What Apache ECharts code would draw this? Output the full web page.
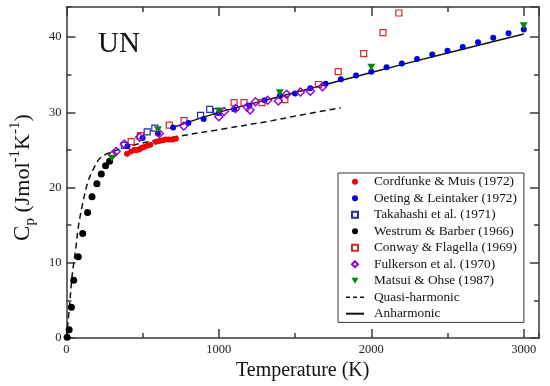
<!DOCTYPE html>
<html><head><meta charset="utf-8">
<script src="https://cdn.jsdelivr.net/npm/echarts@6/dist/echarts.min.js"></script>
<style>html,body{margin:0;padding:0;background:#fff}#c{width:550px;height:386px}</style>
</head><body><div id="c"></div>
<script>
// ---- data ----
const xTicks = [0, 1000, 2000, 3000];
const yTicks = [0, 10, 20, 30, 40];

const cordfunkeT  = [398,424,446,463,479,494,511,533,550,587,609,631,652,674,696,718];
const cordfunkeCp = [24.5,24.8,25.0,25.0,25.1,25.3,25.4,25.6,25.7,26.1,26.2,26.3,26.4,26.4,26.4,26.5];

const oetingT  = [400,500,600,700,800,900,1000,1100,1200,1300,1400,1500,1600,1700,1800,1900,2000,2100,2200,2300,2400,2500,2600,2700,2800,2900,3000];
const oetingCp = [25.5,26.6,27.2,28.0,28.6,29.1,29.9,30.4,30.9,31.6,32.2,32.5,33.2,33.8,34.4,34.9,35.4,36.0,36.5,37.1,37.7,38.2,38.7,39.3,39.9,40.5,41.0];

const takahashiT  = [380,530,580,880,940,985];
const takahashiCp = [25.6,27.4,27.9,29.6,30.4,30.1];

const westrumT  = [5,18,33,48,78,107,139,168,200,229,257,283];
const westrumCp = [0.1,1.1,4.1,7.7,10.8,13.9,16.7,18.8,20.5,21.8,22.9,23.5];

const conwayT  = [425,485,675,772,1100,1165,1283,1433,1653,1783,1950,2077,2181];
const conwayCp = [26.1,26.9,28.3,28.9,31.3,31.3,31.3,31.7,33.7,35.4,37.8,40.6,43.2];

const fulkersonT  = [305,326,380,480,610,770,1000,1035,1110,1185,1205,1240,1320,1390,1445,1535,1600,1680];
const fulkersonCp = [24.4,24.8,25.8,26.7,27.2,28.2,29.4,30.1,30.5,30.7,30.3,31.4,31.6,31.5,32.4,32.7,32.8,33.4];

const matsuiT  = [298,600,1000,1400,2000,3000];
const matsuiCp = [23.9,27.7,30.2,32.6,36.0,41.5];

const quasiT  = [0,20,37,60,80,110,140,175,220,280,450,700,1000,1350,1500,1800];
const quasiCp = [0,4.2,8.2,11.7,15.0,18.2,20.7,22.4,23.9,24.6,25.7,26.7,27.7,28.9,29.5,30.6];

const anharmT  = [700,1000,1400,2000,2500,3000];
const anharmCp = [28.0,30.0,32.1,35.3,37.9,40.4];

const names = ['Cordfunke & Muis (1972)','Oeting & Leintaker (1972)','Takahashi et al. (1971)',
  'Westrum & Barber (1966)','Conway & Flagella (1969)','Fulkerson et al. (1970)','Matsui & Ohse (1987)',
  'Quasi-harmonic','Anharmonic'];

// ---- build ----
const zip = (a, b) => a.map((v, i) => [v, b[i]]);
const FONT = '"Liberation Serif", "DejaVu Serif", serif';
const AX = '#3a3a3a';
const DIAMOND = 'path://M5,0L10,5L5,10L0,5Z';
const SQUARE = 'path://M0,0L10,0L10,10L0,10Z';
const TRI_DOWN = 'path://M0,0L10,0L5,8.66Z';

function scatter(name, data, symbol, size, fill, border, bw) {
  return {
    name, type: 'scatter', data, symbol, symbolSize: size, symbolKeepAspect: true,
    itemStyle: { color: fill, borderColor: border, borderWidth: bw, opacity: 1 },
    emphasis: { disabled: true }, z: 3
  };
}

const xBase = { type: 'value', min: 0, max: 3100, splitLine: { show: false } };
const yBase = { type: 'value', min: 0, max: 44, splitLine: { show: false } };
const lineSt = { color: AX, width: 1.5 };

const legendData = names.map((n, i) => {
  if (i === 7) return { name: n, itemStyle: { opacity: 0 }, lineStyle: { type: [4, 3], width: 1.5 } };
  if (i === 8) return { name: n, itemStyle: { opacity: 0 } };
  return { name: n };
});

const option = {
  animation: false,
  backgroundColor: '#fff',
  title: { text: 'UN', left: 93, top: 25, textStyle: { fontFamily: FONT, fontSize: 29, fontWeight: 'normal', color: '#111' } },
  grid: { left: 63, right: 11, top: 7, bottom: 45 },
  xAxis: [
    Object.assign({}, xBase, { position: 'bottom', interval: 1000,
      axisLine: { show: true, onZero: false, lineStyle: lineSt },
      axisTick: { show: true, inside: true, length: 9, lineStyle: lineSt },
      axisLabel: { show: true, showMaxLabel: false, margin: 5, fontFamily: FONT, fontSize: 12.5, color: '#222',
        formatter: v => (xTicks.indexOf(v) >= 0 ? String(v) : '') },
      name: 'Temperature (K)', nameLocation: 'middle', nameGap: 16,
      nameTextStyle: { fontFamily: FONT, fontSize: 20, color: '#111' } }),
    Object.assign({}, xBase, { position: 'top', interval: 1000,
      axisLine: { show: true, onZero: false, lineStyle: lineSt },
      axisTick: { show: true, inside: true, length: 9, lineStyle: lineSt },
      axisLabel: { show: false } }),
    Object.assign({}, xBase, { position: 'bottom', interval: 500,
      axisLine: { show: false, onZero: false },
      axisTick: { show: true, inside: true, length: 5, lineStyle: lineSt },
      axisLabel: { show: false } }),
    Object.assign({}, xBase, { position: 'top', interval: 500,
      axisLine: { show: false, onZero: false },
      axisTick: { show: true, inside: true, length: 5, lineStyle: lineSt },
      axisLabel: { show: false } })
  ],
  yAxis: [
    Object.assign({}, yBase, { position: 'left', interval: 10,
      axisLine: { show: true, onZero: false, lineStyle: lineSt },
      axisTick: { show: true, inside: true, length: 9, lineStyle: lineSt },
      axisLabel: { show: true, showMaxLabel: false, margin: 5, fontFamily: FONT, fontSize: 12.5, color: '#222',
        formatter: v => (yTicks.indexOf(v) >= 0 ? String(v) : '') },
      name: '{c|C}{s|p}{n| (Jmol}{u|-1}{n|K}{u|-1}{n|)}', nameLocation: 'middle', nameRotate: 90, nameGap: 27,
      nameTextStyle: { fontFamily: FONT, color: '#111', padding: [0, 10, 0, 0],
        rich: {
          c: { fontFamily: FONT, fontSize: 23, color: '#111', lineHeight: 30, verticalAlign: 'middle' },
          n: { fontFamily: FONT, fontSize: 22, color: '#111', lineHeight: 30, verticalAlign: 'middle' },
          s: { fontFamily: FONT, fontSize: 15, color: '#111', lineHeight: 15, verticalAlign: 'bottom' },
          u: { fontFamily: FONT, fontSize: 15, color: '#111', lineHeight: 15, verticalAlign: 'top' }
        } } }),
    Object.assign({}, yBase, { position: 'right', interval: 10,
      axisLine: { show: true, onZero: false, lineStyle: lineSt },
      axisTick: { show: true, inside: true, length: 9, lineStyle: lineSt },
      axisLabel: { show: false } }),
    Object.assign({}, yBase, { position: 'left', interval: 5,
      axisLine: { show: false, onZero: false },
      axisTick: { show: true, inside: true, length: 5, lineStyle: lineSt },
      axisLabel: { show: false } }),
    Object.assign({}, yBase, { position: 'right', interval: 5,
      axisLine: { show: false, onZero: false },
      axisTick: { show: true, inside: true, length: 5, lineStyle: lineSt },
      axisLabel: { show: false } })
  ],
  legend: {
    orient: 'vertical', left: 338, top: 173,
    data: legendData,
    itemWidth: 18, itemHeight: 6, itemGap: 1.1,
    padding: [1, 7, 1, 7],
    borderColor: '#333', borderWidth: 1, backgroundColor: '#fff',
    symbolKeepAspect: true,
    selectedMode: false,
    textStyle: { fontFamily: FONT, fontSize: 13.3, color: '#111', lineHeight: 15.4, padding: [0, 0, 0, 5] }
  },
  series: [
    { name: names[7], type: 'line', data: zip(quasiT, quasiCp), smooth: 0.35, symbol: 'none',
      lineStyle: { color: '#111', width: 1.5, type: [6, 4] }, itemStyle: { color: '#111' }, z: 2 },
    { name: names[8], type: 'line', data: zip(anharmT, anharmCp), smooth: 0.3, symbol: 'none',
      lineStyle: { color: '#111', width: 1.5, type: 'solid' }, itemStyle: { color: '#111' }, z: 2 },
    scatter(names[3], zip(westrumT, westrumCp), 'circle', 7, '#000', '#000', 0),
    scatter(names[4], zip(conwayT, conwayCp), SQUARE, 6, 'rgba(255,255,255,0)', '#d42a2a', 1.2),
    scatter(names[2], zip(takahashiT, takahashiCp), SQUARE, 6, 'rgba(255,255,255,0)', '#2a2aa8', 1.2),
    scatter(names[0], zip(cordfunkeT, cordfunkeCp), 'circle', 6, '#f00000', '#f00000', 0),
    scatter(names[1], zip(oetingT, oetingCp), 'circle', 6, '#0000e0', '#0000e0', 0),
    scatter(names[5], zip(fulkersonT, fulkersonCp), DIAMOND, 8, 'rgba(255,255,255,0)', '#9400d3', 1.4),
    scatter(names[6], zip(matsuiT, matsuiCp), TRI_DOWN, 8, '#008b00', '#008b00', 0)
  ]
};

const chart = echarts.init(document.getElementById('c'), null, { renderer: 'canvas' });
chart.setOption(option);
</script></body></html>
